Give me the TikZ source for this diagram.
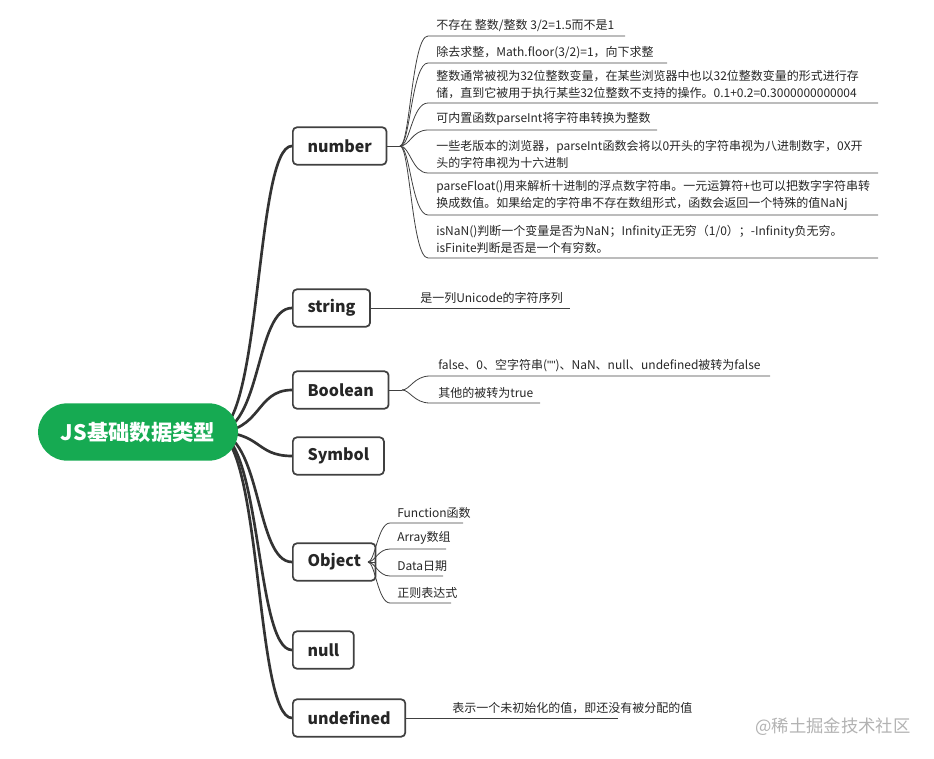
\documentclass[tikz,border=0pt]{standalone}
\usepackage{fontspec}
\setmainfont{Noto Sans CJK SC}
\newfontfamily\qfont{Liberation Sans}
\begin{document}
\begin{tikzpicture}[x=0.75pt,y=-0.75pt,
  cat/.style={draw=black!75,line width=1.3pt,rounded corners=3pt,fill=white,font=\fontsize{12}{14}\selectfont\bfseries,text=black!85,minimum height=28pt,inner xsep=11pt,anchor=west},
  main/.style={draw=black!80,line width=2pt},
  leafl/.style={draw=black!75,line width=0.6pt},
  leaf/.style={anchor=south west,font=\fontsize{9}{12.75}\selectfont,text=black!85,align=left,inner xsep=0pt,inner ysep=3pt}]
\useasboundingbox (0,0) rectangle (934,759);
\foreach \n/\y in {num/146,str/308,boo/390,sym/456,obj/562,nul/650,und/718}{
  \coordinate (t\n) at (292,\y);
}
\foreach \n in {num,str,boo,sym,obj,nul,und}{
  \draw[main] (215,432) .. controls (262,432) and (255,0|-t\n) .. (t\n);
}
\node[fill={rgb,255:red,22;green,170;blue,82},rounded corners=22pt,minimum width=150pt,minimum height=43pt,text=white,font=\fontsize{16}{18}\selectfont\bfseries] (root) at (138,432) {JS基础数据类型};
\node[cat] (num) at (tnum) {number};
\node[cat] (str) at (tstr) {string};
\node[cat] (boo) at (tboo) {Boolean};
\node[cat] (sym) at (tsym) {Symbol};
\node[cat] (obj) at (tobj) {Object};
\node[cat] (nul) at (tnul) {null};
\node[cat] (und) at (tund) {undefined};
% number leaves
\coordinate (nh) at (400,146);
\draw[leafl] (num.east) -- (nh);
\foreach \y/\e in {36/625,63/667,103/878,130/657,173/878,215/878,258/878}{
  \draw[leafl] (nh) .. controls (410,146) and (412,\y) .. (428,\y) -- (\e,\y);
}
\node[leaf] (n1) at (436,36) {不存在 整数/整数 3/2=1.5而不是1};
\node[leaf] (n2) at (436,63) {除去求整，Math.floor(3/2)=1，向下求整};
\node[leaf] (n3) at (436,103) {整数通常被视为32位整数变量，在某些浏览器中也以32位整数变量的形式进行存\\储，直到它被用于执行某些32位整数不支持的操作。0.1+0.2=0.3000000000004};
\node[leaf] (n4) at (436,130) {可内置函数parseInt将字符串转换为整数};
\node[leaf] (n5) at (436,173) {一些老版本的浏览器，parseInt函数会将以0开头的字符串视为八进制数字，0X开\\头的字符串视为十六进制};
\node[leaf] (n6) at (436,215) {parseFloat()用来解析十进制的浮点数字符串。一元运算符+也可以把数字字符串转\\换成数值。如果给定的字符串不存在数组形式，函数会返回一个特殊的值NaNj};
\node[leaf] (n7) at (436,258) {isNaN()判断一个变量是否为NaN；Infinity正无穷（1/0）；-Infinity负无穷。\\isFinite判断是否是一个有穷数。};
% string
\coordinate (se) at (570,308);
\draw[leafl] (str.east) -- (se);
\node[leaf] (s1) at (420,308) {是一列Unicode的字符序列};
% boolean
\coordinate (bh) at (402,390);
\draw[leafl] (boo.east) -- (bh);
\draw[leafl] (bh) .. controls (410,390) and (414,376) .. (430,376) -- (770,376);
\draw[leafl] (bh) .. controls (410,390) and (414,403) .. (430,403) -- (540,403);
\node[leaf] (b1) at (438,376) {false、0、空字符串({\qfont\symbol{34}\symbol{34}})、NaN、null、undefined被转为false};
\node[leaf] (b2) at (438,403) {其他的被转为true};
% object
\coordinate (oh) at (368,562);
\draw[leafl] (obj.east) -- (oh);
\foreach \y/\e in {523/463,549/446,576/443,603/451}{
  \draw[leafl] (oh) .. controls (375,562) and (378,\y) .. (390,\y) -- (\e,\y);
}
\node[leaf] (o1) at (397,523) {Function函数};
\node[leaf] (o2) at (397,549) {Array数组};
\node[leaf] (o3) at (397,576) {Data日期};
\node[leaf] (o4) at (397,603) {正则表达式};
% undefined
\coordinate (ue) at (618,718);
\draw[leafl] (und.east) -- (ue);
\node[leaf] (u1) at (452,718) {表示一个未初始化的值，即还没有被分配的值};
\node[text=black!30,font=\fontsize{13}{15}\selectfont] (wm) at (833,727) {@稀土掘金技术社区};
\end{tikzpicture}
\end{document}
